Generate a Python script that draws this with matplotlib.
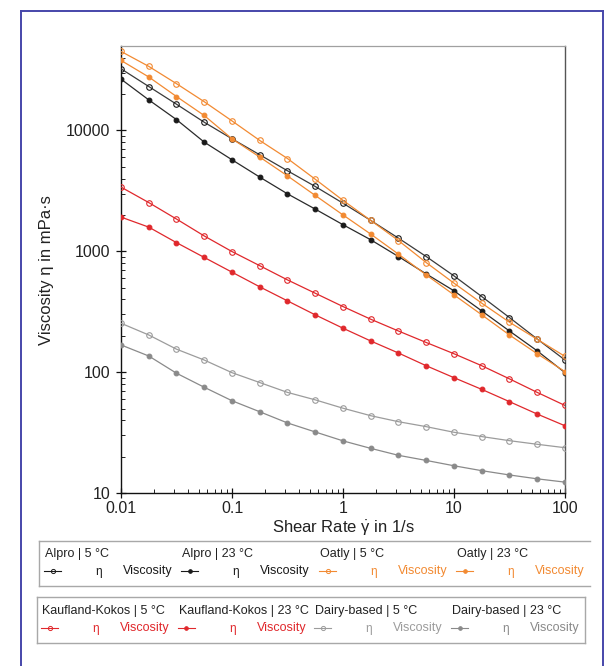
import matplotlib
matplotlib.use("Agg")
import matplotlib.pyplot as plt
from matplotlib.lines import Line2D
from matplotlib.ticker import LogLocator, NullFormatter, FixedLocator, FixedFormatter

plt.rcParams['font.family'] = ['Liberation Sans', 'DejaVu Sans']
plt.rcParams['mathtext.fontset'] = 'custom'
plt.rcParams['mathtext.rm'] = 'Liberation Sans'
plt.rcParams['mathtext.it'] = 'Liberation Sans'

# ---- data ----
shear_rate = [0.01, 0.0178, 0.0316, 0.0562, 0.1, 0.178, 0.316, 0.562, 1,
              1.78, 3.16, 5.62, 10, 17.8, 31.6, 56.2, 100]
alpro_5 = [32400, 23100, 16500, 11700, 8530, 6290, 4640, 3440, 2500,
           1800, 1285, 905, 626, 422, 283, 188, 126]
alpro_23 = [26600, 17900, 12300, 8010, 5720, 4110, 2990, 2235, 1660,
            1245, 905, 650, 471, 321, 219, 150, 99]
oatly_5 = [45100, 33900, 24400, 17300, 12000, 8260, 5860, 3950, 2640,
           1800, 1227, 807, 545, 372, 259, 187, 135]
oatly_23 = [38000, 27700, 19100, 13300, 8530, 6020, 4210, 2900, 2000,
            1387, 947, 638, 436, 298, 203, 142, 101]
kaufland_5 = [3400, 2530, 1850, 1340, 995, 760, 580, 450, 349,
              274, 219, 176, 142, 113, 88, 68, 53]
kaufland_23 = [1920, 1585, 1180, 890, 672, 508, 389, 298, 231,
               181, 144, 113, 90, 72, 57, 45, 36]
dairy_5 = [254, 203, 155, 126, 99, 82, 68, 59, 50.3,
           43.6, 38.9, 35.4, 31.8, 29.3, 27.1, 25.3, 23.7]
dairy_23 = [168, 136, 98, 75, 58, 47, 38, 32, 27,
            23.4, 20.5, 18.6, 16.8, 15.3, 14.1, 13.1, 12.3]

labels = ["Alpro | 5 °C", "Alpro | 23 °C", "Oatly | 5 °C", "Oatly | 23 °C",
          "Kaufland-Kokos | 5 °C", "Kaufland-Kokos | 23 °C",
          "Dairy-based | 5 °C", "Dairy-based | 23 °C"]
series = [alpro_5, alpro_23, oatly_5, oatly_23, kaufland_5, kaufland_23, dairy_5, dairy_23]

x_ticks = [0.01, 0.1, 1, 10, 100]
x_ticklabels = ["0.01", "0.1", "1", "10", "100"]
y_ticks = [10, 100, 1000, 10000]
y_ticklabels = ["10", "100", "1000", "10000"]

# ---- styles ----
BLACK = '#1a1a1a'
ORANGE = '#f28a32'
RED = '#e0282c'
GREY = '#9c9c9c'
GREY2 = '#8a8a8a'
colors = [BLACK, BLACK, ORANGE, ORANGE, RED, RED, GREY, GREY2]
line_colors = ['#3a3a3a', '#2a2a2a', ORANGE, ORANGE, RED, RED, GREY, GREY2]
filled = [False, True, False, True, False, True, False, True]

W, H = 615, 666
fig = plt.figure(figsize=(W / 100, H / 100), dpi=100)

def fx(px):
    return px / W

def fy(py):
    return 1 - py / H

ax_l, ax_r, ax_t, ax_b = 121, 565, 46, 493
ax = fig.add_axes([fx(ax_l), fy(ax_b), (ax_r - ax_l) / W, (ax_b - ax_t) / H])

for ys, c, lc, f in zip(series, colors, line_colors, filled):
    ax.plot(shear_rate, ys, color=lc, lw=0.9, marker='o',
            markersize=3.4 if f else 4.0,
            markerfacecolor=c if f else 'none',
            markeredgecolor=c, markeredgewidth=0.8, zorder=3)

ax.set_xscale('log')
ax.set_yscale('log')
ax.set_xlim(0.01, 100)
ax.set_ylim(10, 50000)

ax.xaxis.set_major_locator(FixedLocator(x_ticks))
ax.xaxis.set_major_formatter(FixedFormatter(x_ticklabels))
ax.yaxis.set_major_locator(FixedLocator(y_ticks))
ax.yaxis.set_major_formatter(FixedFormatter(y_ticklabels))
ax.xaxis.set_minor_locator(LogLocator(base=10, subs=range(2, 10), numticks=20))
ax.yaxis.set_minor_locator(LogLocator(base=10, subs=range(2, 10), numticks=20))
ax.xaxis.set_minor_formatter(NullFormatter())
ax.yaxis.set_minor_formatter(NullFormatter())

ax.tick_params(which='major', direction='inout', length=7, width=0.9,
               labelsize=11.5, color='#111111', labelcolor='#222222',
               top=False, right=False)
ax.tick_params(axis='x', which='major', pad=2)
ax.tick_params(axis='y', which='major', pad=4)
ax.tick_params(which='minor', direction='in', length=3, width=0.7,
               color='#222222', top=False, right=False)

for s in ['left', 'bottom']:
    ax.spines[s].set_color('#111111')
    ax.spines[s].set_linewidth(1.0)
ax.spines['top'].set_color('#a0a0a0')
ax.spines['top'].set_linewidth(0.9)
ax.spines['right'].set_color('#555555')
ax.spines['right'].set_linewidth(1.0)

fig.text(fx(47), fy(270), "Viscosity η in mPa·s", rotation=90, fontsize=12,
         ha='center', va='center', color='#222222')
fig.text(fx(343), fy(533), r"Shear Rate $\dot{\mathrm{γ}}$ in 1/s", fontsize=12,
         ha='center', va='baseline', color='#222222')

# ---- blue frame ----
frame_c = '#4646aa'
fig.add_artist(Line2D([fx(21), fx(21)], [fy(11), fy(H + 5)], color=frame_c, lw=1.4))
fig.add_artist(Line2D([fx(21), fx(603)], [fy(11), fy(11)], color=frame_c, lw=1.4))
fig.add_artist(Line2D([fx(603), fx(603)], [fy(11), fy(H + 5)], color=frame_c, lw=1.4))

# ---- legends ----
def legend_box(x0, x1, y0, y1, right=True):
    lc = '#a8a8a8'
    fig.add_artist(Line2D([fx(x0), fx(x1)], [fy(y0), fy(y0)], color=lc, lw=1.0))
    fig.add_artist(Line2D([fx(x0), fx(x1)], [fy(y1), fy(y1)], color=lc, lw=1.0))
    fig.add_artist(Line2D([fx(x0), fx(x0)], [fy(y0), fy(y1)], color=lc, lw=1.0))
    if right:
        fig.add_artist(Line2D([fx(x1), fx(x1)], [fy(y0), fy(y1)], color=lc, lw=1.0))

def legend_entry(cx, ty, ry, idx):
    c = colors[idx]
    f = filled[idx]
    fig.text(fx(cx), fy(ty), labels[idx], fontsize=9, ha='left', va='center',
             color='#222222')
    fig.add_artist(Line2D([fx(cx - 1), fx(cx + 16)], [fy(ry), fy(ry)], color=c, lw=0.8))
    fig.add_artist(Line2D([fx(cx + 7.5)], [fy(ry)], color=c, marker='o',
                          markersize=2.6 if f else 3.0,
                          markerfacecolor=c if f else 'none',
                          markeredgecolor=c, markeredgewidth=0.7))
    fig.text(fx(cx + 54), fy(ry + 1), "η", fontsize=8.5, ha='center', va='center', color=c)
    fig.text(fx(cx + 78), fy(ry), "Viscosity", fontsize=9, ha='left', va='center', color=c)

legend_box(39, 590, 541, 586, right=False)
for i, cx in enumerate([45, 182, 320, 457]):
    legend_entry(cx, 554, 571, i)

legend_box(37, 585, 597, 643, right=True)
for i, cx in enumerate([42, 179, 315, 452]):
    legend_entry(cx, 611, 628, 4 + i)

fig.savefig("out.png", dpi=100)
